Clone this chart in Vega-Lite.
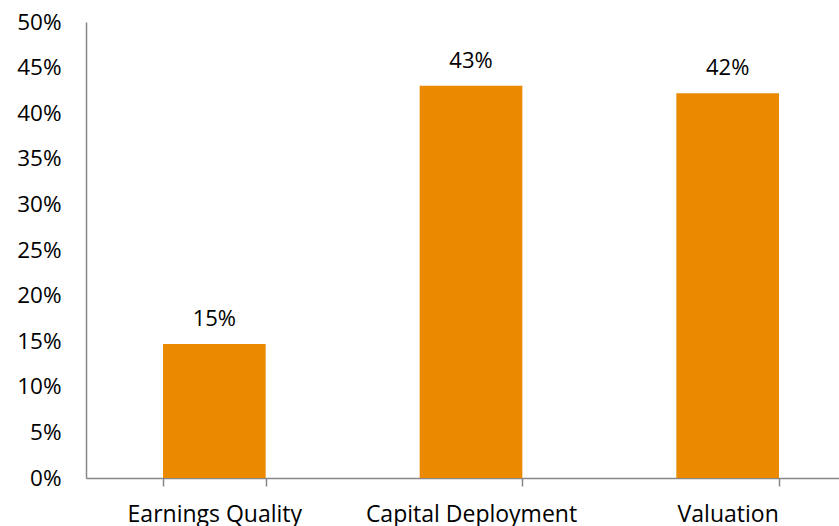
{
  "$schema": "https://vega.github.io/schema/vega-lite/v6.json",
  "width": 770,
  "height": 456,
  "padding": {"left": 16, "top": 11, "right": 0, "bottom": 0},
  "background": "white",
  "config": {
    "view": {"stroke": null},
    "font": "Open Sans"
  },
  "data": {
    "values": [
      {"category": "Earnings Quality", "value": 0.147},
      {"category": "Capital Deployment", "value": 0.430},
      {"category": "Valuation", "value": 0.422}
    ]
  },
  "encoding": {
    "x": {
      "field": "category",
      "type": "nominal",
      "sort": null,
      "scale": {"paddingInner": 0.6, "paddingOuter": 0.3},
      "axis": {
        "title": null,
        "labelAngle": 0,
        "labelFont": "Open Sans",
        "labelFontSize": 23,
        "labelColor": "#000000",
        "labelPadding": 17,
        "labelLimit": 0,
        "domainColor": "#868686",
        "domainWidth": 1.5,
        "tickColor": "#868686",
        "tickWidth": 1.5,
        "tickSize": 8,
        "tickBand": "extent",
        "grid": false
      }
    },
    "y": {
      "field": "value",
      "type": "quantitative",
      "scale": {"domain": [0, 0.5], "nice": false},
      "axis": {
        "title": null,
        "format": ".0%",
        "values": [0, 0.05, 0.1, 0.15, 0.2, 0.25, 0.3, 0.35, 0.4, 0.45, 0.5],
        "labelFont": "Open Sans",
        "labelFontSize": 22.5,
        "labelColor": "#000000",
        "labelPadding": 25,
        "ticks": false,
        "domainColor": "#868686",
        "domainWidth": 1.5,
        "grid": false
      }
    }
  },
  "layer": [
    {"mark": {"type": "bar", "color": "#EB8A00"}},
    {
      "mark": {"type": "text", "font": "Open Sans", "fontSize": 22, "color": "#000000", "baseline": "alphabetic", "dy": -18},
      "encoding": {
        "text": {"field": "value", "type": "quantitative", "format": ".0%"}
      }
    }
  ]
}
